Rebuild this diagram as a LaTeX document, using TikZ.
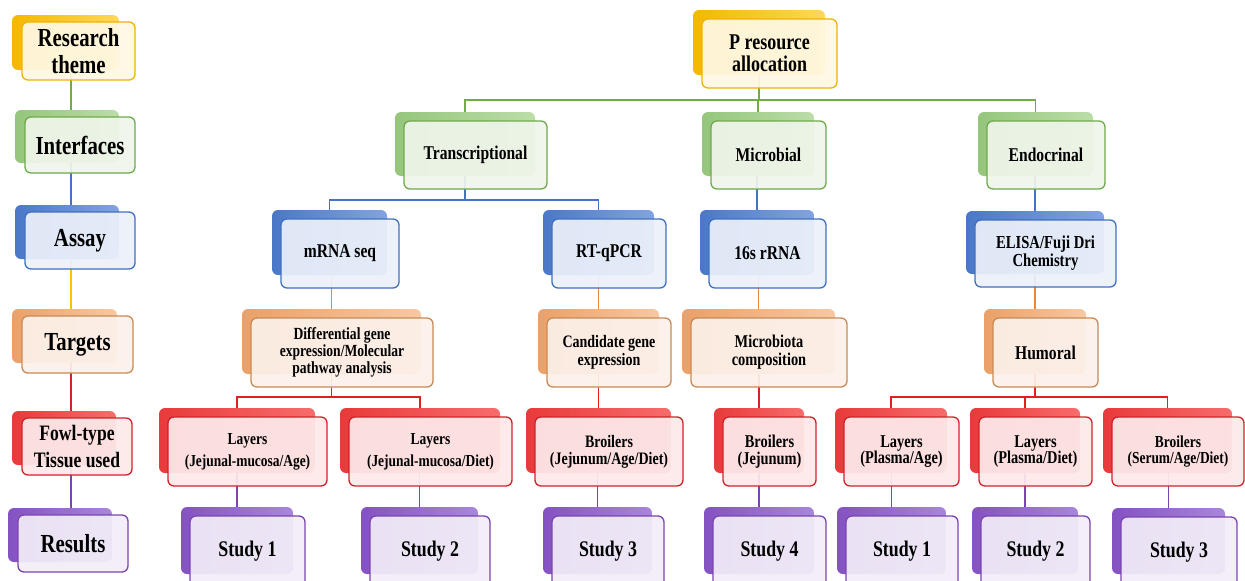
\documentclass[tikz,border=0pt]{standalone}
\usepackage{fontspec}
\setmainfont{Liberation Serif}[FakeStretch=0.8]
\usetikzlibrary{calc}
\pgfdeclarelayer{bg}
\pgfsetlayers{bg,main}

% colour families: b1/b2 = back shading, ln = border, fl = front fill, cn = connector
\definecolor{yb1}{HTML}{F5B800}\definecolor{yb2}{HTML}{FFD75A}\definecolor{yln}{HTML}{EFB300}\definecolor{yfl}{HTML}{FFF8E4}\definecolor{ycn}{HTML}{FFC000}
\definecolor{gb1}{HTML}{95C67C}\definecolor{gb2}{HTML}{BCDDA8}\definecolor{gln}{HTML}{6FAA4C}\definecolor{gfl}{HTML}{EFF5EA}\definecolor{gcn}{HTML}{70AD47}
\definecolor{bb1}{HTML}{4A78C8}\definecolor{bb2}{HTML}{82A3E0}\definecolor{bln}{HTML}{4070C0}\definecolor{bfl}{HTML}{EBF0FA}\definecolor{bcn}{HTML}{4472C4}
\definecolor{ob1}{HTML}{EBA068}\definecolor{ob2}{HTML}{F7C8A2}\definecolor{oln}{HTML}{C98A55}\definecolor{ofl}{HTML}{FCF1EA}\definecolor{ocn}{HTML}{E8893A}
\definecolor{rb1}{HTML}{E83A3A}\definecolor{rb2}{HTML}{F86C6C}\definecolor{rln}{HTML}{D0222B}\definecolor{rfl}{HTML}{FDEAEA}\definecolor{rcn}{HTML}{E02020}
\definecolor{pb1}{HTML}{8452C2}\definecolor{pb2}{HTML}{A986DA}\definecolor{pln}{HTML}{7A45B0}\definecolor{pfl}{HTML}{F2EDF8}\definecolor{pcn}{HTML}{7A45B0}

\tikzset{
  backbox/.style={rounded corners=6pt, inner sep=0pt, outer sep=0pt, anchor=north west},
  frontbox/.style={rounded corners=6pt, inner sep=0pt, outer sep=0pt, anchor=north west,
    line width=1.3pt, fill opacity=0.93, text opacity=1, align=center, text=black},
  link/.style={line width=1.4pt},
}

% offsets of the shaded back plate relative to the front card
\newcommand\bdx{9}\newcommand\bdy{9}\newcommand\bdr{12}\newcommand\bdb{13}

% #1 name, #2-#5 front card corners, #6 colour family, #7 font size, #8 skip, #9 text
\newcommand\tbox[9]{%
  \node[backbox, left color=#6b1, right color=#6b2,
        minimum width={#4-#2-\bdr+\bdx}, minimum height={#5-#3-\bdb+\bdy}]
        (#1-b) at ({#2-\bdx},{#3-\bdy}) {};
  \node[frontbox, draw=#6ln, fill=#6fl,
        minimum width={#4-#2}, minimum height={#5-#3},
        font=\fontsize{#7}{#8}\selectfont\bfseries] (#1) at (#2,#3) {#9};
}

\begin{document}
\begin{tikzpicture}[x=1pt,y=-1pt]
\useasboundingbox (0,0) rectangle (1245,581);
\clip (0,0) rectangle (1245,581);

% legend column
\begin{scope}
\renewcommand\bdx{10}\renewcommand\bdy{7}\renewcommand\bdr{16}\renewcommand\bdb{10}
\tbox{rt}{22}{22}{135}{80}{y}{26}{27}{Research\\theme}
\tbox{if}{25}{117}{135}{173}{g}{26}{27}{Interfaces}
\tbox{as}{25}{212}{135}{269}{b}{26}{27}{Assay}
\tbox{tg}{22}{316}{133}{373}{o}{26}{27}{Targets}
\tbox{ft}{22}{418}{132}{475}{r}{22}{26.5}{Fowl-type\\Tissue used}
\tbox{rs}{18}{515}{128}{572}{p}{26}{27}{Results}
\end{scope}

% tree
\tbox{pr}{702}{19}{837}{88}{y}{22.5}{22}{P resource\\allocation}

\tbox{tr}{404}{121}{547}{189}{g}{19.5}{20}{Transcriptional}
\tbox{mi}{711}{121}{826}{189}{g}{19.5}{20}{Microbial}
\tbox{en}{987}{121}{1105}{189}{g}{19.5}{20}{Endocrinal}

\tbox{mr}{281}{219}{399}{288}{b}{19.5}{20}{mRNA seq}
\tbox{rq}{552}{219}{666}{288}{b}{19.5}{20}{RT-qPCR}
\tbox{sr}{709}{219}{826}{288}{b}{19.5}{20}{16s rRNA}
\tbox{el}{975}{220}{1116}{287}{b}{18.3}{18}{ELISA/Fuji Dri\\Chemistry}

\tbox{dg}{251}{318}{433}{387}{o}{17}{17.3}{Differential gene\\expression/Molecular\\pathway analysis}
\tbox{cg}{547}{318}{671}{387}{o}{17.5}{17.5}{Candidate gene\\expression}
\tbox{mc}{691}{318}{847}{387}{o}{18}{18}{Microbiota\\composition}
\tbox{hu}{993}{318}{1098}{387}{o}{19.5}{20}{Humoral}

\tbox{l1}{168}{417}{327}{486}{r}{16.8}{22}{Layers\\(Jejunal-mucosa/Age)}
\tbox{l2}{349}{417}{512}{486}{r}{16.8}{22}{Layers\\(Jejunal-mucosa/Diet)}
\tbox{b1}{535}{417}{683}{486}{r}{17.5}{17}{Broilers\\(Jejunum/Age/Diet)}
\tbox{b2}{723}{417}{816}{486}{r}{18}{17.3}{Broilers\\(Jejunum)}
\tbox{l3}{844}{417}{959}{486}{r}{18}{16.7}{Layers\\(Plasma/Age)}
\tbox{l4}{979}{417}{1092}{486}{r}{18}{16.7}{Layers\\(Plasma/Diet)}
\tbox{b3}{1112}{417}{1244}{486}{r}{16.8}{16.7}{Broilers\\(Serum/Age/Diet)}

\tbox{s1}{190}{516}{305}{587}{p}{22.3}{23}{Study 1}
\tbox{s2}{370}{516}{490}{587}{p}{22.3}{23}{Study 2}
\tbox{s3}{552}{516}{664}{587}{p}{22.3}{23}{Study 3}
\tbox{s4}{713}{516}{826}{587}{p}{22.3}{23}{Study 4}
\tbox{s5}{846}{516}{958}{587}{p}{22.3}{23}{Study 1}
\tbox{s6}{981}{516}{1090}{587}{p}{22.3}{23}{Study 2}
\tbox{s7}{1121}{517}{1237}{587}{p}{22.3}{23}{Study 3}

% bus heights and the legend axis
\coordinate (busg) at (0,100);
\coordinate (busb) at (0,200);
\coordinate (busr) at (0,397);
\coordinate (lc) at (71,0);

\begin{pgfonlayer}{bg}
  % legend column links
  \draw[link, gcn] (lc |- rt-b.center) -- (lc |- if-b.center);
  \draw[link, bcn] (lc |- if-b.center) -- (lc |- as-b.center);
  \draw[link, ycn] (lc |- as-b.center) -- (lc |- tg-b.center);
  \draw[link, rcn] (lc |- tg-b.center) -- (lc |- ft-b.center);
  \draw[link, pcn] (lc |- ft-b.center) -- (lc |- rs-b.center);

  % interfaces
  \draw[link, gcn] (pr-b.center) -- (pr-b.center |- busg) -| (tr-b.center);
  \draw[link, gcn] (pr-b.center |- busg) -| (en-b.center);
  \draw[link, gcn] (pr-b.center |- busg) -| (mi-b.center);

  % assays
  \draw[link, bcn] (tr-b.center) -- (tr-b.center |- busb) -| (mr-b.center);
  \draw[link, bcn] (tr-b.center |- busb) -| (rq-b.center);
  \draw[link, bcn] (mi-b.center) -| (sr-b.center);
  \draw[link, bcn] (en-b.center) -| (el-b.center);

  % targets
  \draw[link, ocn] (mr-b.center) -| (dg-b.center);
  \draw[link, ocn] (rq-b.center) -| (cg-b.center);
  \draw[link, ocn] (sr-b.center) -| (mc-b.center);
  \draw[link, ocn] (el-b.center) -| (hu-b.center);

  % fowl type and tissue
  \draw[link, rcn] (dg-b.center) -- (dg-b.center |- busr) -| (l1-b.center);
  \draw[link, rcn] (dg-b.center |- busr) -| (l2-b.center);
  \draw[link, rcn] (cg-b.center) -| (b1-b.center);
  \draw[link, rcn] (mc-b.center) -| (b2-b.center);
  \draw[link, rcn] (hu-b.center) -- (hu-b.center |- busr) -| (l3-b.center);
  \draw[link, rcn] (hu-b.center |- busr) -| (l4-b.center);
  \draw[link, rcn] (hu-b.center |- busr) -| (b3-b.center);

  % results
  \draw[link, pcn] (l1-b.center) -| (s1-b.center);
  \draw[link, pcn] (l2-b.center) -| (s2-b.center);
  \draw[link, pcn] (b1-b.center) -| (s3-b.center);
  \draw[link, pcn] (b2-b.center) -| (s4-b.center);
  \draw[link, pcn] (l3-b.center) -| (s5-b.center);
  \draw[link, pcn] (l4-b.center) -| (s6-b.center);
  \draw[link, pcn] (b3-b.center) -| (s7-b.center);
\end{pgfonlayer}
\end{tikzpicture}
\end{document}
